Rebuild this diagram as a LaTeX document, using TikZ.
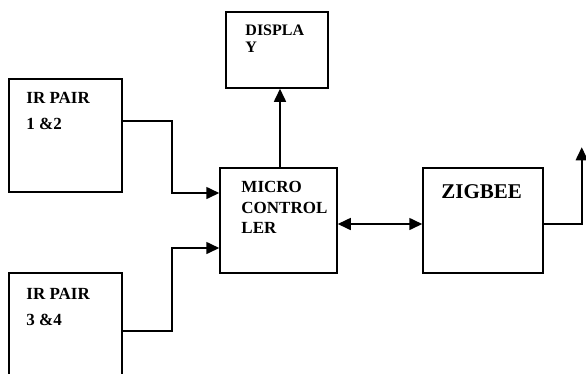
\documentclass[tikz,border=0pt]{standalone}
\usepackage{fontspec}
\setmainfont{Liberation Serif}
\usepackage{tikz}
\usetikzlibrary{arrows.meta, calc}

\begin{document}
\begin{tikzpicture}[
  x=1pt, y=-1pt,
  block/.style = {rectangle, draw=black, line width=1.5pt, fill=white,
                  inner sep=0pt},
  lbl/.style   = {anchor=north west, inner sep=0pt, align=left,
                  font=\fontsize{17}{26}\selectfont\bfseries},
  arrow/.style = {-{Triangle[length=13pt, width=12pt]}, line width=1.6pt},
  darrow/.style= {{Triangle[length=13pt, width=12pt]}-{Triangle[length=13pt, width=12pt]},
                  line width=1.6pt}
]
\clip (0,0) rectangle (586,373);

\node[block, minimum width=113pt, minimum height=113pt] (ir1)  at (65.5,135.5) {};
\node[block, minimum width=113pt, minimum height=113pt] (ir2)  at (65.5,329.5) {};
\node[block, minimum width=117pt, minimum height=105pt] (mc)   at (278.5,220.5) {};
\node[block, minimum width=102pt, minimum height=76pt]  (disp) at (277,50) {};
\node[block, minimum width=120pt, minimum height=105pt] (zig)  at (483,220.5) {};

\node[lbl] at ($(ir1.north west)+(18,14)$) {IR PAIR\\1 \&2};
\node[lbl] at ($(ir2.north west)+(18,16)$) {IR PAIR\\3 \&4};
\node[lbl, font=\fontsize{17}{20.5}\selectfont\bfseries]
  at ($(mc.north west)+(22,14)$) {MICRO\\CONTROL\\LER};
\node[lbl, font=\fontsize{16}{17}\selectfont\bfseries]
  at ($(disp.north west)+(20,13)$) {DISPLA\\Y};
\node[lbl, font=\fontsize{21}{24}\selectfont\bfseries]
  at ($(zig.north west)+(19,17)$) {ZIGBEE};

\coordinate (out) at ($(zig.north east)+(38,-20)$);

\draw[arrow] ([yshift=14.5pt]ir1.east) -| ([xshift=-47pt, yshift=27.5pt]mc.west)
             -- ([yshift=27.5pt]mc.west);
\draw[arrow] ([yshift=-1.5pt]ir2.east) -| ([xshift=-47pt, yshift=-27.5pt]mc.west)
             -- ([yshift=-27.5pt]mc.west);
\draw[arrow] ([xshift=1.5pt]mc.north) -- ([xshift=1.5pt]mc.north |- disp.south);
\draw[darrow] ([yshift=-3.5pt]mc.east) -- ([yshift=-3.5pt]zig.west);
\draw[arrow] ([yshift=-3.5pt]zig.east) -| (out);

\end{tikzpicture}
\end{document}
